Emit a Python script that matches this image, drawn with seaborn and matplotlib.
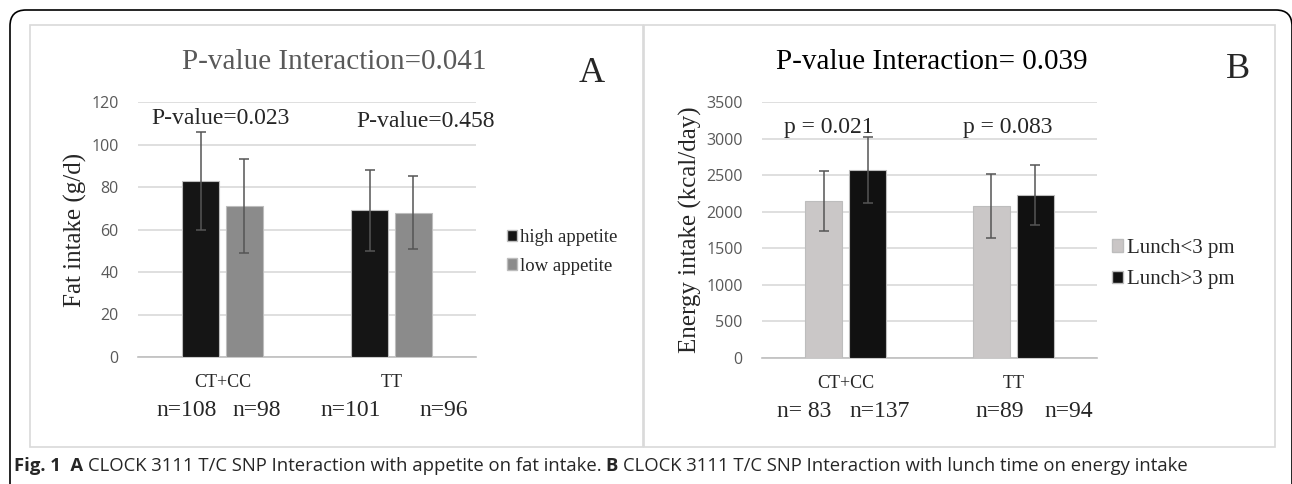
import numpy as np
import pandas as pd
import matplotlib
matplotlib.use('Agg')
import matplotlib.pyplot as plt
import seaborn as sns
from matplotlib.patches import FancyBboxPatch, Rectangle, Patch

# ---------------- data ----------------
genotypes = ['CT+CC', 'TT']

appetite_levels = ['high appetite', 'low appetite']
fat_mean = {'high appetite': [83, 69], 'low appetite': [71, 68]}
fat_sd = {'high appetite': [23, 19], 'low appetite': [22, 17]}
fat_n = ['n=108', 'n=98', 'n=101', 'n=96']
fat_p = ['P-value=0.023', 'P-value=0.458']

lunch_levels = ['Lunch<3 pm', 'Lunch>3 pm']
energy_mean = {'Lunch<3 pm': [2150, 2080], 'Lunch>3 pm': [2570, 2230]}
energy_sd = {'Lunch<3 pm': [410, 440], 'Lunch>3 pm': [450, 410]}
energy_n = ['n= 83', 'n=137', 'n=89', 'n=94']
energy_p = ['p = 0.021', 'p = 0.083']

caption_a = 'CLOCK 3111 T/C SNP Interaction with appetite on fat intake. '
caption_b = 'CLOCK 3111 T/C SNP Interaction with lunch time on energy intake'

df_a = pd.DataFrame([(g, h, fat_mean[h][i], fat_sd[h][i])
                     for h in appetite_levels for i, g in enumerate(genotypes)],
                    columns=['genotype', 'group', 'value', 'sd'])
df_b = pd.DataFrame([(g, h, energy_mean[h][i], energy_sd[h][i])
                     for h in lunch_levels for i, g in enumerate(genotypes)],
                    columns=['genotype', 'group', 'value', 'sd'])

# ---------------- layout ----------------
W, H = 1292, 484
fig = plt.figure(figsize=(W / 100, H / 100), dpi=100)
sns.set_style('white')
SERIF = ['Liberation Serif', 'DejaVu Serif']
TICKF = ['Open Sans', 'DejaVu Sans']


def box(x0, y0, x1, y1):
    # pixel box (top-left origin) -> figure fraction rect
    return [x0 / W, 1 - y1 / H, (x1 - x0) / W, (y1 - y0) / H]


# outer rounded frame (in inches, runs off the bottom) + panel boxes
fig.patches.append(FancyBboxPatch((0.10, -0.5), 12.82, (H - 10) / 100 + 0.5,
                                  boxstyle='round,pad=0,rounding_size=0.16',
                                  transform=fig.dpi_scale_trans, fill=False,
                                  edgecolor='black', linewidth=1.2))
for rect in [box(30, 25, 643, 447), box(644, 25, 1275, 447)]:
    fig.patches.append(Rectangle(rect[:2], rect[2], rect[3], transform=fig.transFigure,
                                 fill=False, edgecolor='#d9d9d9', linewidth=1.2))


def draw_panel(ax, df, levels, colors, ylim, yticks, ylabel, ylabel_x,
               n_labels, n_offsets, p_labels, p_pos):
    sns.barplot(data=df, x='genotype', y='value', hue='group', hue_order=levels,
                order=genotypes, palette=colors, width=0.52, gap=0.15,
                edgecolor='#bdbdbd', linewidth=0.8, ax=ax, legend=False, zorder=3)
    # error bars from the bars seaborn placed
    for cont, lev in zip(ax.containers, levels):
        sub = df[df['group'] == lev].set_index('genotype').loc[genotypes]
        xs = [p.get_x() + p.get_width() / 2 for p in cont.patches]
        ax.errorbar(xs, sub['value'].values, yerr=sub['sd'].values, fmt='none',
                    ecolor='#555555', elinewidth=1.1, capsize=3.5, capthick=1.1, zorder=4)
    ax.set_ylim(*ylim)
    ax.set_xlim(-0.5, 1.5)
    ax.set_yticks(yticks)
    ax.yaxis.grid(True, color='#d9d9d9', linewidth=1.2, zorder=0)
    ax.set_axisbelow(True)
    for s in ['top', 'right', 'left']:
        ax.spines[s].set_visible(False)
    ax.spines['bottom'].set_color('#bfbfbf')
    ax.spines['bottom'].set_linewidth(1.2)
    ax.tick_params(axis='y', length=0, pad=14, labelsize=11.5, labelcolor='#595959')
    for t in ax.get_yticklabels():
        t.set_family(TICKF)
    # category boundary tick marks
    ax.set_xticks([-0.5, 0.5, 1.5], minor=True)
    ax.tick_params(axis='x', which='minor', length=5, color='#bfbfbf', width=1.2)
    ax.tick_params(axis='x', which='major', length=0, pad=12, labelsize=13)
    for t in ax.get_xticklabels():
        t.set_family(SERIF)
    ax.set_xlabel('')
    ax.set_ylabel(ylabel, fontsize=18, family=SERIF)
    ax.yaxis.set_label_coords(ylabel_x, 0.5)
    # n labels under categories
    for i, (lab, off) in enumerate(zip(n_labels, n_offsets)):
        ax.text(i // 2 + off, -0.21, lab, transform=ax.get_xaxis_transform(),
                ha='center', va='center', fontsize=17, family=SERIF)
    for (px, py), lab in zip(p_pos, p_labels):
        ax.text(px, py, lab, transform=ax.get_xaxis_transform(),
                ha='center', va='center', fontsize=17, family=SERIF)


ax_a = fig.add_axes(box(138, 102, 476, 357))
draw_panel(ax_a, df_a, appetite_levels, ['#151515', '#8b8b8b'], (0, 120),
           np.arange(0, 121, 20), 'Fat intake (g/d)', -0.15,
           fat_n, [-0.21, 0.2, -0.24, 0.31], fat_p, [(-0.01, 0.935), (1.2, 0.925)])

ax_b = fig.add_axes(box(762, 102, 1097, 358))
draw_panel(ax_b, df_b, lunch_levels, ['#cac6c6', '#111111'], (0, 3500),
           np.arange(0, 3501, 500), 'Energy intake (kcal/day)', -0.18,
           energy_n, [-0.25, 0.2, -0.08, 0.33], energy_p, [(-0.1, 0.9), (0.97, 0.9)])

# panel titles and letters
fig.text(334 / W, 1 - 62 / H, 'P-value Interaction=0.041', ha='center', va='center',
         fontsize=21, color='#595959', family=SERIF)
fig.text(932 / W, 1 - 62 / H, 'P-value Interaction= 0.039', ha='center', va='center',
         fontsize=21, color='black', family=SERIF)
fig.text(592 / W, 1 - 73 / H, 'A', ha='center', va='center', fontsize=26, family=SERIF)
fig.text(1238 / W, 1 - 70 / H, 'B', ha='center', va='center', fontsize=26, family=SERIF)

# legends
leg_kw = dict(loc='center left', bbox_transform=fig.transFigure, frameon=False,
              handlelength=0.55, handleheight=0.55, handletextpad=0.15,
              labelspacing=0.6, borderpad=0, borderaxespad=0)
ax_a.legend(handles=[Patch(facecolor=c, edgecolor='#bdbdbd') for c in ['#151515', '#8b8b8b']],
            labels=appetite_levels, bbox_to_anchor=(507 / W, 1 - 252 / H),
            prop={'family': SERIF, 'size': 13.5}, **leg_kw)
ax_b.legend(handles=[Patch(facecolor=c, edgecolor='#bdbdbd') for c in ['#cac6c6', '#111111']],
            labels=lunch_levels, bbox_to_anchor=(1112 / W, 1 - 264 / H),
            prop={'family': SERIF, 'size': 15}, **leg_kw)

# caption
CAPF = ['Open Sans', 'DejaVu Sans']
cap_y = 1 - 466 / H
cap_fs = 13.3
t1 = fig.text(14 / W, cap_y, 'Fig. 1  A ', ha='left', va='center', fontsize=cap_fs,
              fontweight='bold', family=CAPF)
fig.canvas.draw()
x = t1.get_window_extent().x1
t2 = fig.text(x / W, cap_y, caption_a, ha='left', va='center', fontsize=cap_fs, family=CAPF)
fig.canvas.draw()
x = t2.get_window_extent().x1
t3 = fig.text(x / W, cap_y, 'B ', ha='left', va='center', fontsize=cap_fs,
              fontweight='bold', family=CAPF)
fig.canvas.draw()
x = t3.get_window_extent().x1
fig.text(x / W, cap_y, caption_b, ha='left', va='center', fontsize=cap_fs, family=CAPF)

fig.savefig('out.png', dpi=100)
